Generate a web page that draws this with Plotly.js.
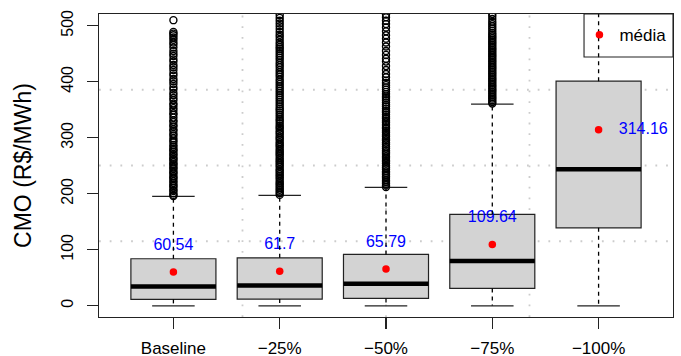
<!DOCTYPE html>
<html>
<head>
<meta charset="utf-8">
<script src="https://cdn.plot.ly/plotly-3.0.1.min.js"></script>
<style>html,body{margin:0;padding:0;background:#fff;}#chart{width:681px;height:356px;}</style>
</head>
<body>
<div id="chart"></div>
<script>
// ---- data ----
const categories = ['Baseline', '\u221225%', '\u221250%', '\u221275%', '\u2212100%'];
const positions = [1, 2, 3, 4, 5];
const q1Vals = [11.4, 12.0, 13.2, 31.0, 139.3];
const medianVals = [34.6, 36.4, 39.3, 79.8, 243.8];
const q3Vals = [84.0, 85.7, 91.8, 163.2, 401.0];
const lowerWhisker = [0, 0, 0, 0, 0];
const upperWhisker = [195.3, 197.0, 211.4, 360.0, 640.0];
const meanVals = [60.54, 61.7, 65.79, 109.64, 314.16];
const meanLabels = ['60.54', '61.7', '65.79', '109.64', '314.16'];
const outBaseline = [196,198,201,205,207,211,214,216,220,223,227,229,232,236,238,241,245,247,251,253,256,260,262,265,269,271,275,278,280,284,287,292,295,299,304,307,312,315,320,323,328,331,336,341,344,349,353,358,361,367,371,376,380,386,390,396,401,405,411,415,421,426,430,436,440,446,450,455,461,466,470,475,479,483,486,489,510];
const outM25 = [198,201,204,207,210,213,216,219,222,226,229,232,235,238,241,244,248,251,254,257,260,263,267,270,273,276,279,283,286,289,292,296,299,302,306,309,312,316,319,322,326,330,333,337,341,345,349,352,356,360,364,368,372,376,380,384,388,392,396,400,404,409,413,417,421,426,430,434,439,443,447,451,455,459,462,466,470,475,480,484,489,494,499,504,509,514,519];
const outM50 = [212,215,218,221,224,228,231,234,237,240,244,247,250,254,257,260,264,267,271,274,277,281,284,288,291,295,298,302,305,309,312,316,319,323,327,330,334,337,341,345,348,352,356,359,363,367,371,374,378,382,386,390,394,398,402,408,414,421,428,436,441,448,455,463,470,477,483,490,497,503,509,515,520];
const outM75 = [361,364,367,370,373,376,379,382,385,388,391,394,397,400,403,406,409,412,415,418,421,424,427,430,433,436,439,442,445,448,451,454,457,460,463,466,469,472,475,478,481,484,487,491,495,499,503,507,512,517,521];
const outliers = [outBaseline, outM25, outM50, outM75, []];
const meanLegend = 'média';

// ---- layout constants ----
const xRange = [0.3, 5.7];
const yRange = [-20, 521];
const boxW = 0.8;

const traces = [];
traces.push({
  type: 'box', x: positions, q1: q1Vals, median: medianVals, q3: q3Vals,
  lowerfence: q1Vals, upperfence: q3Vals, width: boxW, whiskerwidth: 0,
  boxpoints: false, fillcolor: '#d3d3d3', line: {color: '#222', width: 1.2},
  showlegend: false, hoverinfo: 'skip'
});
// mean labels (text)
traces.push({
  type: 'scatter', mode: 'text',
  x: positions.map((p, i) => i === 4 ? p + 0.19 : p),
  y: meanVals.map((m, i) => i === 4 ? m : m + 47),
  text: meanLabels,
  textposition: positions.map((p, i) => i === 4 ? 'middle right' : 'middle center'),
  textfont: {family: 'Liberation Sans, Arial, sans-serif', size: 16, color: '#0000ff'},
  showlegend: false, hoverinfo: 'skip', cliponaxis: false
});
// whiskers dashed
const wx = [], wy = [];
positions.forEach((p, i) => {
  wx.push(p, p, null, p, p, null);
  wy.push(q3Vals[i], upperWhisker[i], null, q1Vals[i], lowerWhisker[i], null);
});
traces.push({type: 'scatter', mode: 'lines', x: wx, y: wy,
  line: {color: '#000', width: 1.3, dash: '4px,4px'}, showlegend: false, hoverinfo: 'skip'});
// caps
const cx = [], cy = [];
positions.forEach((p, i) => {
  cx.push(p - boxW / 4, p + boxW / 4, null, p - boxW / 4, p + boxW / 4, null);
  cy.push(upperWhisker[i], upperWhisker[i], null, lowerWhisker[i], lowerWhisker[i], null);
});
traces.push({type: 'scatter', mode: 'lines', x: cx, y: cy,
  line: {color: '#222', width: 1.3}, showlegend: false, hoverinfo: 'skip'});
// medians
const mx = [], my = [];
positions.forEach((p, i) => {
  mx.push(p - boxW / 2, p + boxW / 2, null);
  my.push(medianVals[i], medianVals[i], null);
});
traces.push({type: 'scatter', mode: 'lines', x: mx, y: my,
  line: {color: '#000', width: 4.5}, showlegend: false, hoverinfo: 'skip'});
// outliers
const ox = [], oy = [];
outliers.forEach((arr, i) => arr.forEach(v => { ox.push(positions[i]); oy.push(v); }));
traces.push({type: 'scatter', mode: 'markers', x: ox, y: oy,
  marker: {symbol: 'circle-open', size: 7, color: '#000', line: {width: 1.4, color: '#000'}},
  showlegend: false, hoverinfo: 'skip'});
// means
traces.push({type: 'scatter', mode: 'markers', x: positions, y: meanVals, name: meanLegend,
  marker: {symbol: 'circle', size: 7.5, color: '#ff0000'}, showlegend: true, hoverinfo: 'skip'});

// grid (R grid(4,4)) and legend frame
const shapes = [];
for (let k = 1; k <= 3; k++) {
  const gy = yRange[0] + (yRange[1] - yRange[0]) * k / 4;
  const gx = xRange[0] + (xRange[1] - xRange[0]) * k / 4;
  shapes.push({type: 'line', layer: 'below', xref: 'paper', yref: 'y', x0: 0, x1: 1, y0: gy, y1: gy,
    line: {color: '#cccccc', width: 1.8, dash: '1.8px,8.9px'}});
  shapes.push({type: 'line', layer: 'below', xref: 'x', yref: 'paper', x0: gx, x1: gx, y0: 0, y1: 1,
    line: {color: '#cccccc', width: 1.8, dash: '1.8px,8.9px'}});
}
shapes.push({type: 'rect', xref: 'paper', yref: 'paper', x0: 0.845, x1: 1, y0: 0.858, y1: 1,
  line: {color: '#222', width: 1.1}, fillcolor: 'rgba(0,0,0,0)', layer: 'above'});

const font = 'Liberation Sans, Arial, sans-serif';
const layout = {
  width: 681, height: 356,
  margin: {l: 99, r: 8, t: 14, b: 39},
  paper_bgcolor: '#fff', plot_bgcolor: '#fff',
  font: {family: font, color: '#000'},
  showlegend: true,
  legend: {x: 0.837, xanchor: 'left', y: 0.93, yanchor: 'middle', bgcolor: 'rgba(0,0,0,0)',
    borderwidth: 0, font: {family: font, size: 17, color: '#000'}},
  xaxis: {range: xRange, tickvals: positions, ticktext: categories, showgrid: false, zeroline: false,
    showline: true, mirror: true, linecolor: '#222', linewidth: 1.1,
    ticks: 'outside', ticklen: 11, tickwidth: 1.1, tickcolor: '#222',
    tickfont: {family: font, size: 17, color: '#000'}, ticklabelstandoff: 4},
  yaxis: {range: yRange, tickvals: [0, 100, 200, 300, 400, 500], showgrid: false, zeroline: false,
    showline: true, mirror: true, linecolor: '#222', linewidth: 1.1,
    ticks: 'outside', ticklen: 11, tickwidth: 1.1, tickcolor: '#222', tickangle: -90,
    tickfont: {family: font, size: 16, color: '#000'}, ticklabelstandoff: 8,
    title: {text: 'CMO (R$/MWh)', font: {family: font, size: 23, color: '#000'}, standoff: 20},
    automargin: false},
  shapes: shapes
};
Plotly.newPlot('chart', traces, layout, {staticPlot: true, displayModeBar: false});
</script>
</body>
</html>
